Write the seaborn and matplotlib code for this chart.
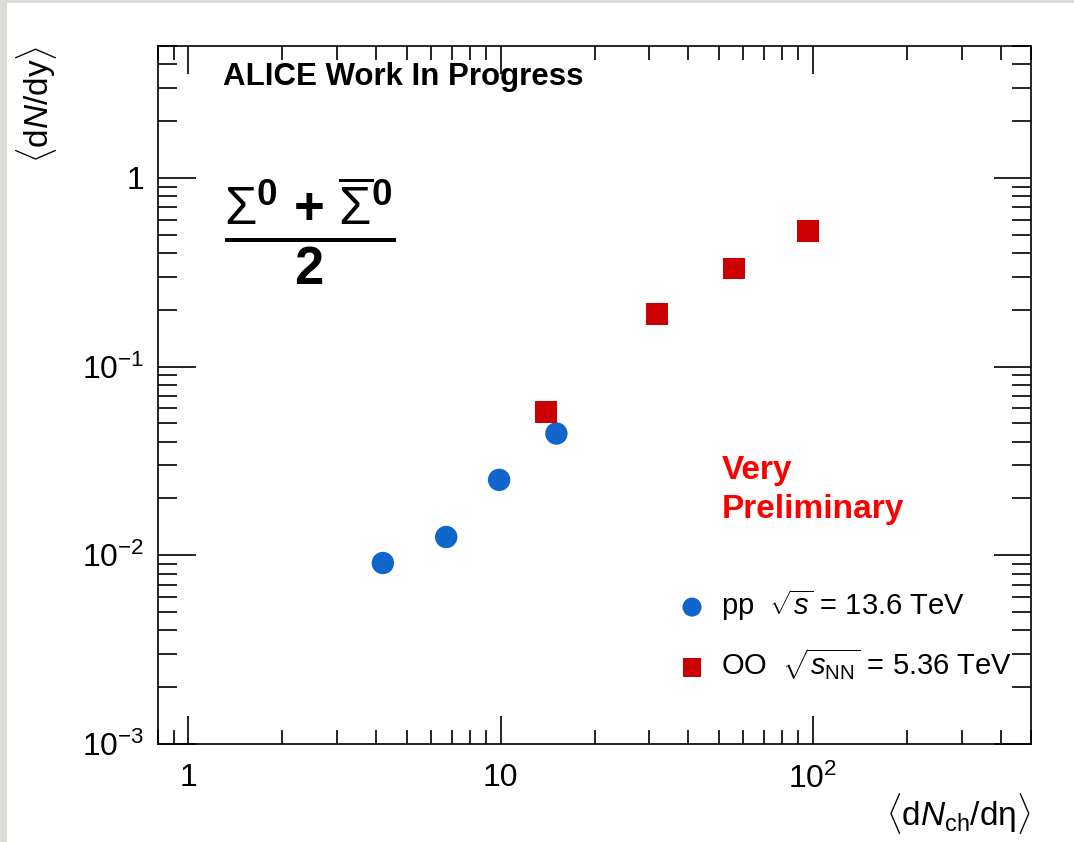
import numpy as np
import pandas as pd
import matplotlib
matplotlib.use("Agg")
import matplotlib.pyplot as plt
import seaborn as sns
from matplotlib.ticker import LogLocator, NullFormatter, FixedLocator, FixedFormatter
from matplotlib.patches import Rectangle

# Sigma0 yields vs charged-particle multiplicity
pp_dndeta = [4.2, 6.7, 9.9, 15.1]
pp_dndy = [0.0091, 0.0125, 0.0251, 0.0442]

oo_dndeta = [14.0, 31.8, 55.9, 96.7]
oo_dndy = [0.0577, 0.189, 0.331, 0.526]
oo_err = [0.004, 0.0, 0.0, 0.0]

x_ticks = [1, 10, 100]
x_ticklabels = ["1", "10", r"$10^{2}$"]
y_ticks = [1e-3, 1e-2, 1e-1, 1]
y_ticklabels = [r"$10^{-3}$", r"$10^{-2}$", r"$10^{-1}$", "1"]

sns.set_theme(style="white")
plt.rcParams["font.family"] = ["Liberation Sans", "DejaVu Sans"]
plt.rcParams["mathtext.fontset"] = "custom"
plt.rcParams["mathtext.rm"] = "Liberation Sans"
plt.rcParams["mathtext.it"] = "Liberation Sans:italic"
plt.rcParams["mathtext.bf"] = "Liberation Sans:bold"
for key in ["text.color", "axes.labelcolor", "xtick.color", "ytick.color"]:
    plt.rcParams[key] = "black"

pp = pd.DataFrame({"x": pp_dndeta, "y": pp_dndy})
oo = pd.DataFrame({"x": oo_dndeta, "y": oo_dndy})

fig = plt.figure(figsize=(10.74, 8.42), dpi=100, facecolor="white")
# slide background strips
fig.patches.append(Rectangle((0, 0), 7 / 1074, 1, transform=fig.transFigure,
                             facecolor="#dcdcd8", edgecolor="none", zorder=0))
fig.patches.append(Rectangle((0, 1 - 3 / 842), 1, 3 / 842, transform=fig.transFigure,
                             facecolor="#dcdcd8", edgecolor="none", zorder=0))

ax = fig.add_axes([158 / 1074, 98 / 842, 873 / 1074, 698 / 842])
ax.set_xscale("log")
ax.set_yscale("log")

ax.errorbar(oo["x"], oo["y"], yerr=oo_err, fmt="none", ecolor="#cc0000",
            elinewidth=2.5, capsize=0, zorder=2)
sns.scatterplot(data=pp, x="x", y="y", ax=ax, marker="o", s=260, color="#1166cc",
                edgecolor="none", label="pp", zorder=3)
sns.scatterplot(data=oo, x="x", y="y", ax=ax, marker="s", s=250, color="#cc0000",
                edgecolor="none", label="OO", zorder=3)

ax.set_xlim(0.8, 500)
ax.set_ylim(1e-3, 5.0)

for sp in ax.spines.values():
    sp.set_color("black")
    sp.set_linewidth(1.2)

ax.xaxis.set_major_locator(FixedLocator(x_ticks))
ax.xaxis.set_major_formatter(FixedFormatter(x_ticklabels))
ax.yaxis.set_major_locator(FixedLocator(y_ticks))
ax.yaxis.set_major_formatter(FixedFormatter(y_ticklabels))
ax.xaxis.set_minor_locator(LogLocator(base=10, subs=np.arange(2, 10), numticks=20))
ax.yaxis.set_minor_locator(LogLocator(base=10, subs=np.arange(2, 10), numticks=20))
ax.xaxis.set_minor_formatter(NullFormatter())
ax.yaxis.set_minor_formatter(NullFormatter())

ax.tick_params(axis="x", which="major", direction="in", length=20, width=1.2,
               top=True, bottom=True, labelsize=23, pad=14)
ax.tick_params(axis="x", which="minor", direction="in", length=10, width=1.2,
               top=True, bottom=True)
ax.tick_params(axis="y", which="major", direction="in", length=27, width=1.2,
               left=True, right=True, labelsize=23, pad=10)
ax.tick_params(axis="y", which="minor", direction="in", length=14, width=1.2,
               left=True, right=True)

ax.set_xlabel(r"$\langle$d$\mathit{N}_{\mathrm{ch}}$/dη$\rangle$", fontsize=24,
              loc="right", labelpad=-3)
ax.set_ylabel(r"$\langle$d$\mathit{N}$/dy$\rangle$", fontsize=24, loc="top")
ax.yaxis.set_label_coords(-0.113, 1.0)

ax.text(0.074, 0.955, "ALICE Work In Progress", transform=ax.transAxes,
        fontsize=22.5, fontweight="bold", ha="left", va="center")

ax.text(0.174, 0.735,
        r"$\frac{\Sigma^{\mathbf{0}}\ \mathbf{+}\ \overline{\Sigma}^{\mathbf{0}}}{\mathbf{2}}$",
        transform=ax.transAxes, fontsize=54, ha="center", va="center")

ax.text(0.646, 0.364, "Very\nPreliminary", transform=ax.transAxes, fontsize=24,
        fontweight="bold", color="#ff0000", ha="left", va="center", linespacing=1.3)

handles, _ = ax.get_legend_handles_labels()
labels = [r"pp  $\sqrt{\mathit{s}}$ = 13.6 TeV",
          r"OO  $\sqrt{\mathit{s}_{\mathrm{NN}}}$ = 5.36 TeV"]
leg = ax.legend(handles, labels, loc="center left", bbox_to_anchor=(0.595, 0.157),
                frameon=False, fontsize=21, handlelength=1.0, handletextpad=0.5,
                labelspacing=0.8, borderpad=0, borderaxespad=0, markerscale=0.85)

fig.savefig("out.png", dpi=100, facecolor=fig.get_facecolor())
